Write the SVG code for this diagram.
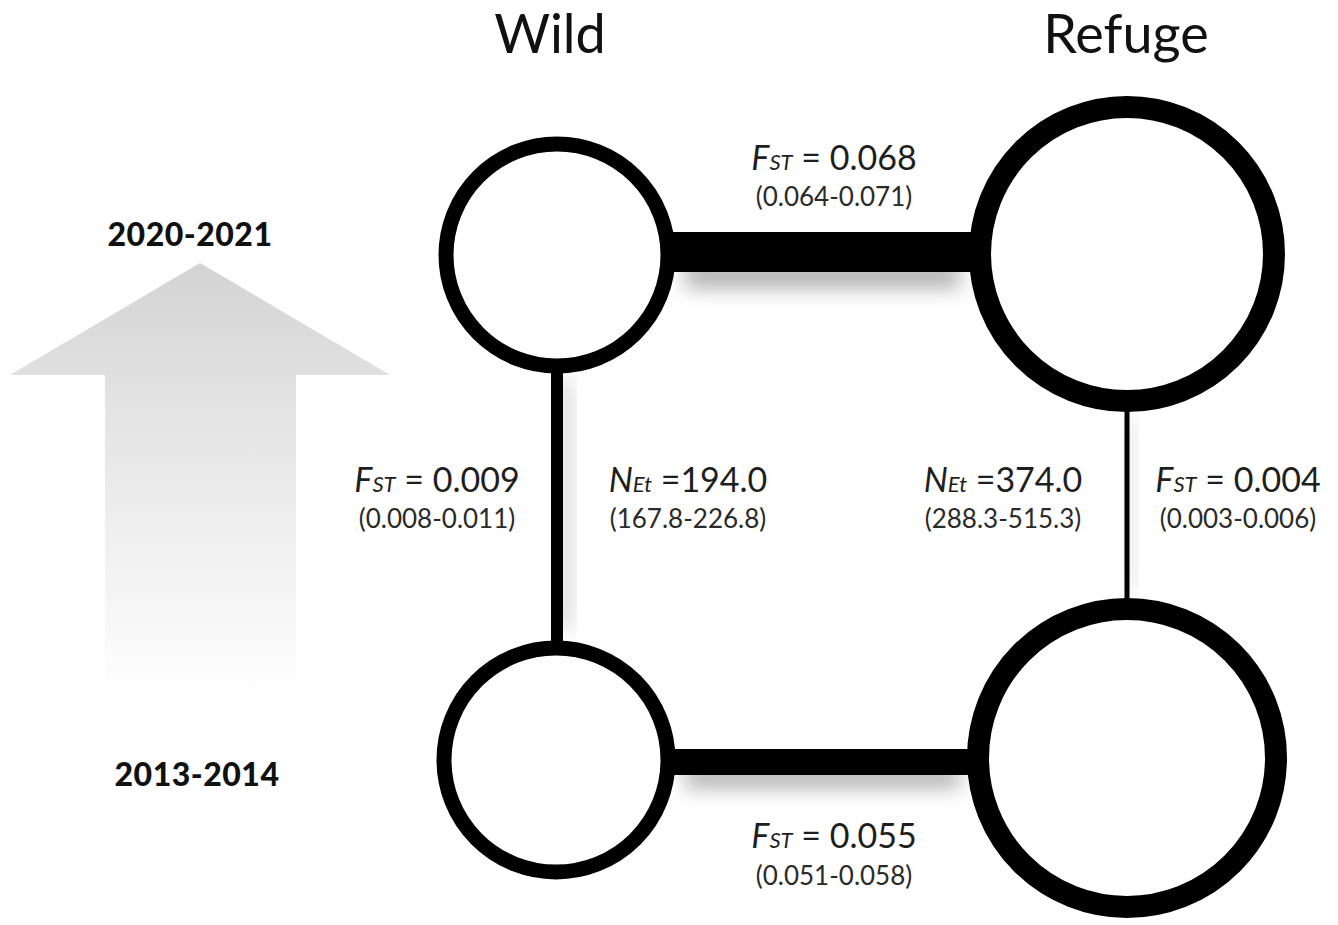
<svg xmlns="http://www.w3.org/2000/svg" width="1338" height="925" viewBox="0 0 1338 925">
<defs>
<linearGradient id="arrowGrad" x1="0" y1="0" x2="0" y2="1">
<stop offset="0" stop-color="#d3d3d3"/>
<stop offset="0.3" stop-color="#e2e2e2"/>
<stop offset="1" stop-color="#ffffff"/>
</linearGradient>
<filter id="shadow" x="-30%" y="-150%" width="160%" height="400%">
<feGaussianBlur stdDeviation="10"/>
</filter>
<style>
.node{fill:#fff;stroke:#000}
.edge{stroke:#000;fill:none}
.sh{fill:#b0b0b0;filter:url(#shadow)}
.main{font-family:Lato,"Open Sans",sans-serif;font-size:34px;fill:#1e1e1e;text-anchor:middle}
.ci{font-family:Lato,"Open Sans",sans-serif;font-size:26px;font-weight:400;fill:#2a2a2a;text-anchor:middle}
.it{font-style:italic}
.sub{font-style:italic;font-size:22px}
.head{font-family:Lato,"Open Sans",sans-serif;font-size:54px;fill:#111;text-anchor:middle}
.yr{font-family:Lato,"Open Sans",sans-serif;font-size:32px;font-weight:900;letter-spacing:0.5px;fill:#111;text-anchor:middle}
</style>
</defs>
<rect width="1338" height="925" fill="#fff"/>
<g id="arrow">
<polygon points="200,263 390,375 296,375 296,700 105,700 105,375 10,375" fill="url(#arrowGrad)"/>
</g>
<g id="titles">
<text class="head" x="550" y="53">Wild</text>
<text class="head" x="1126" y="53">Refuge</text>
<text class="yr" x="190" y="246">2020-2021</text>
<text class="yr" x="197" y="786">2013-2014</text>
</g>
<g id="shadows">
<rect class="sh" x="685" y="262" width="275" height="26"/>
<rect class="sh" x="685" y="766" width="275" height="22"/>
<rect class="sh" x="556" y="380" width="16" height="250" opacity="0.5"/>
<rect class="sh" x="1126" y="420" width="10" height="170" opacity="0.4"/>
</g>
<g id="connectors">
<line class="edge" x1="660" y1="252" x2="985" y2="252" stroke-width="40"/>
<line class="edge" x1="660" y1="762" x2="985" y2="762" stroke-width="26"/>
<line class="edge" x1="557" y1="360" x2="557" y2="650" stroke-width="12"/>
<line class="edge" x1="1127" y1="400" x2="1127" y2="610" stroke-width="5"/>
</g>
<g id="node-wild-2020"><circle class="node" cx="557" cy="255" r="111" stroke-width="15"/></g>
<g id="node-refuge-2020"><circle class="node" cx="1127" cy="254" r="147" stroke-width="22"/></g>
<g id="node-wild-2013"><circle class="node" cx="556" cy="760" r="112" stroke-width="15"/></g>
<g id="node-refuge-2013"><circle class="node" cx="1127" cy="758" r="149" stroke-width="22"/></g>
<g id="labels">
<text class="main" x="834" y="170"><tspan class="it">F</tspan><tspan class="sub">ST</tspan> = 0.068</text>
<text class="ci" x="834" y="206">(0.064-0.071)</text>
<text class="main" x="437" y="492"><tspan class="it">F</tspan><tspan class="sub">ST</tspan> = 0.009</text>
<text class="ci" x="437" y="528">(0.008-0.011)</text>
<text class="main" x="688" y="492"><tspan class="it">N</tspan><tspan class="sub">Et</tspan> =194.0</text>
<text class="ci" x="688" y="528">(167.8-226.8)</text>
<text class="main" x="1003" y="492"><tspan class="it">N</tspan><tspan class="sub">Et</tspan> =374.0</text>
<text class="ci" x="1003" y="528">(288.3-515.3)</text>
<text class="main" x="1238" y="492"><tspan class="it">F</tspan><tspan class="sub">ST</tspan> = 0.004</text>
<text class="ci" x="1238" y="528">(0.003-0.006)</text>
<text class="main" x="834" y="848"><tspan class="it">F</tspan><tspan class="sub">ST</tspan> = 0.055</text>
<text class="ci" x="834" y="885">(0.051-0.058)</text>
</g>
</svg>
